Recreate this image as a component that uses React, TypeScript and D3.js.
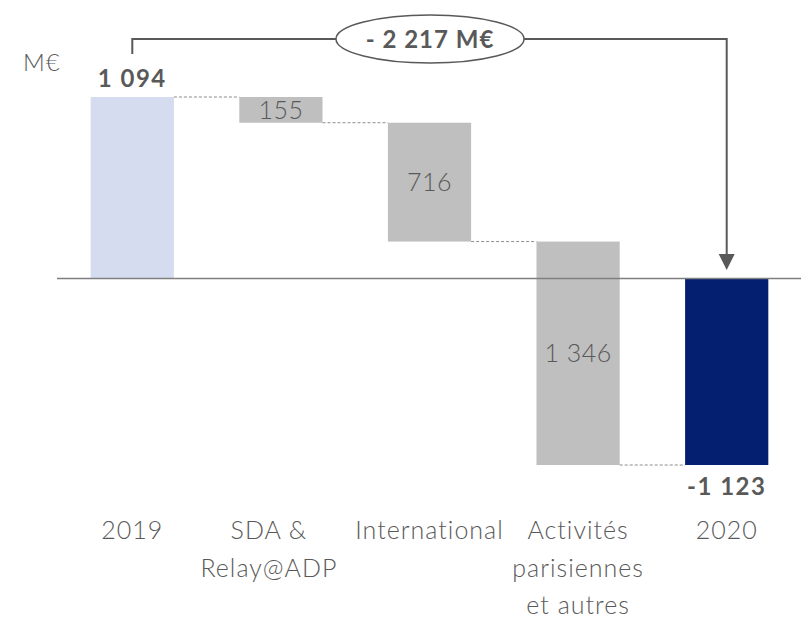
import React from "react";
import * as d3 from "d3";

const categories = ["2019", "SDA & Relay@ADP", "International", "Activités parisiennes et autres", "2020"];
const categoryLines = [["2019"], ["SDA &", "Relay@ADP"], ["International"], ["Activités", "parisiennes", "et autres"], ["2020"]];
const values = [1094, -155, -716, -1346, -1123];
const kinds = ["total", "delta", "delta", "delta", "total"];
const valueLabels = ["1 094", "155", "716", "1 346", "-1 123"];
const totalChangeLabel = "- 2 217 M€";
const unitLabel = "M€";

const W = 801;
const H = 625;
const FONT = "Lato, 'Open Sans', sans-serif";
const TEXT = "#595959";
const labelShift = [0, -12, 0, 0, 0];

export default function App() {
  const x = d3.scaleBand<string>().domain(categories).range([58, 801]).paddingInner(0.44).paddingOuter(0.22);
  const y = d3.scaleLinear().domain([-1123, 1094]).range([465, 97]);

  let running = 0;
  const segs = values.map((v, i) => {
    let lo: number, hi: number, end: number;
    if (kinds[i] === "total") {
      lo = Math.min(0, v);
      hi = Math.max(0, v);
      end = v;
    } else {
      const start = running;
      end = running + v;
      lo = Math.min(start, end);
      hi = Math.max(start, end);
    }
    running = end;
    return { cat: categories[i], lo, hi, end, i };
  });

  const colors = ["#D6DCF0", "#BFBFBF", "#BFBFBF", "#BFBFBF", "#041F70"];
  const bw = x.bandwidth();
  const cx = (c: string) => (x(c) as number) + bw / 2;

  const firstX = cx(categories[0]);
  const lastX = cx(categories[4]);
  const bracketY = 39;
  const ellCx = 430;
  const ellRx = 94;
  const ellRy = 24;

  return (
    <svg width={W} height={H} style={{ position: "absolute", left: 0, top: 0 }}>
      <rect width={W} height={H} fill="#fff" />
      {segs.map((s) => (
        <rect key={s.cat} x={x(s.cat)} y={y(s.hi)} width={bw} height={y(s.lo) - y(s.hi)} fill={colors[s.i]} />
      ))}
      <line x1={57} x2={801} y1={y(0)} y2={y(0)} stroke="#7F7F7F" strokeWidth={1.5} />
      {segs.slice(0, -1).map((s, i) => (
        <line
          key={"c" + i}
          x1={(x(s.cat) as number) + bw}
          x2={x(categories[i + 1]) as number}
          y1={y(s.end)}
          y2={y(s.end)}
          stroke="#8C8C8C"
          strokeWidth={1}
          strokeDasharray="3,2"
        />
      ))}
      <text x={cx(categories[0])} y={y(values[0]) - 10} textAnchor="middle" fontFamily={FONT} fontWeight={700} fontSize={24} letterSpacing={1.5} fill={TEXT}>
        {valueLabels[0]}
      </text>
      {segs.slice(1, 4).map((s) => (
        <text
          key={"v" + s.i}
          x={cx(s.cat)}
          y={(y(s.lo) + y(s.hi)) / 2}
          dy="0.36em"
          textAnchor="middle"
          fontFamily={FONT}
          fontWeight={300}
          fontSize={25}
          letterSpacing={0.5}
          fill={TEXT}
        >
          {valueLabels[s.i]}
        </text>
      ))}
      <text x={cx(categories[4])} y={y(values[4]) + 30} textAnchor="middle" fontFamily={FONT} fontWeight={700} fontSize={24} letterSpacing={1.5} fill={TEXT}>
        {valueLabels[4]}
      </text>
      <text x={23} y={71} fontFamily={FONT} fontWeight={300} fontSize={24} letterSpacing={1} fill={TEXT}>
        {unitLabel}
      </text>
      {categoryLines.map((lines, i) =>
        lines.map((ln, j) => (
          <text
            key={"k" + i + "-" + j}
            x={cx(categories[i]) + labelShift[i]}
            y={539 + j * 37.5}
            textAnchor="middle"
            fontFamily={FONT}
            fontWeight={300}
            fontSize={25}
            letterSpacing={1}
            fill={TEXT}
          >
            {ln}
          </text>
        ))
      )}
      <path
        d={`M${firstX},54 V${bracketY} H${ellCx - ellRx} M${ellCx + ellRx},${bracketY} H${lastX} V256`}
        fill="none"
        stroke="#595959"
        strokeWidth={2}
      />
      <path d={`M${lastX - 8},254 L${lastX + 8},254 L${lastX},270 Z`} fill="#595959" />
      <ellipse cx={ellCx} cy={bracketY} rx={ellRx} ry={ellRy} fill="#fff" stroke="#595959" strokeWidth={1.5} />
      <text x={ellCx} y={bracketY} dy="0.36em" textAnchor="middle" fontFamily={FONT} fontWeight={700} fontSize={24} letterSpacing={1} fill={TEXT}>
        {totalChangeLabel}
      </text>
    </svg>
  );
}
